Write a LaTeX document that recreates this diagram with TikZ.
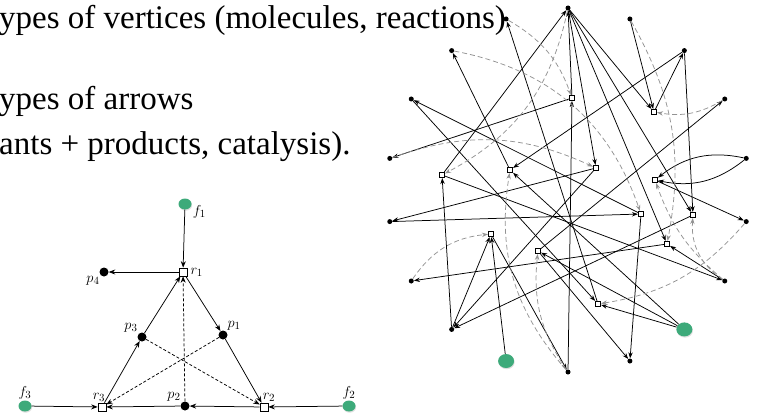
\documentclass[tikz,border=0pt]{standalone}
\usepackage{fontspec}
\setmainfont{Liberation Serif}
\usetikzlibrary{arrows.meta,shapes.geometric,shadows}
\definecolor{food}{HTML}{3DAA7A}
\definecolor{catal}{HTML}{939393}
\tikzset{
  mdot/.style={circle, fill=black, inner sep=0pt, minimum size=9pt},
  rbox/.style={rectangle, draw=black, fill=white, line width=0.6pt, inner sep=0pt, minimum size=8pt},
  fnode/.style={ellipse, fill=food, inner sep=0pt, minimum width=13pt, minimum height=11pt,
    drop shadow={opacity=0.25, shadow xshift=0.6pt, shadow yshift=-1.2pt}},
  lab/.style={font=\fontsize{15}{15}\selectfont, inner sep=1pt},
  arr/.style={-{Stealth[length=6.5pt,width=5pt]}, line width=0.75pt},
  darr/.style={arr, dash pattern=on 3pt off 2pt},
  % network
  sdot/.style={circle, fill=black, inner sep=0pt, minimum size=5pt},
  sbox/.style={rectangle, draw=black, fill=white, line width=0.6pt, inner sep=0pt, minimum size=5.5pt},
  gdot/.style={fnode, minimum width=16pt, minimum height=14pt},
  narr/.style={-{Stealth[length=6pt,width=4.4pt]}, line width=0.75pt},
  carr/.style={-{Stealth[length=6pt,width=4.4pt]}, line width=0.75pt, draw=catal, dash pattern=on 5pt off 3pt},
  txt/.style={anchor=base west, inner sep=0pt, font=\fontsize{33}{38}\selectfont}
}

\begin{document}
\begin{tikzpicture}[x=1pt,y=-1pt]
  \useasboundingbox (0,0) rectangle (765,417);

  \node[txt] (line1) at (-1,29) {ypes of vertices (molecules, reactions)};
  \node[txt] (line2) at (-1,110) {ypes of arrows};
  \node[txt] (line3) at (-1,154) {ants + products, catalysis).};

  % small example
  \node[fnode] (f1) at (185,204) {};
  \node[fnode] (f2) at (349,406) {};
  \node[fnode] (f3) at (25,406) {};
  \node[rbox] (r1) at (183,272) {};
  \node[rbox] (r2) at (264,407) {};
  \node[rbox] (r3) at (102,407) {};
  \node[mdot] (p1) at (223,335) {};
  \node[mdot] (p2) at (185,406) {};
  \node[mdot] (p3) at (142,337) {};
  \node[mdot] (p4) at (104,272) {};

  \node[lab, anchor=north west] at (f1.east) {$f_1$};
  \node[lab, anchor=west] at ([xshift=2pt]r1.east) {$r_1$};
  \node[lab, anchor=north east] at (p4.south west) {$p_4$};
  \node[lab, anchor=south east] at (p3.north west) {$p_3$};
  \node[lab, anchor=south west] at (p1.north east) {$p_1$};
  \node[lab, anchor=south] at ([xshift=-3pt]r3.north) {$r_3$};
  \node[lab, anchor=south east] at (p2.north west) {$p_2$};
  \node[lab, anchor=south] at ([xshift=5pt]r2.north) {$r_2$};
  \node[lab, anchor=south] at (f3.north) {$f_3$};
  \node[lab, anchor=south] at (f2.north) {$f_2$};

  \foreach \s/\t in {f1/r1, r1/p4, r1/p1, p1/r2, r3/p3, p3/r1, f3/r3, f2/r2, r2/p2, p2/r3}
    \draw[arr] (\s) -- (\t);
  \foreach \s/\t in {p2/r1, p1/r3, p3/r2}
    \draw[darr] (\s) -- (\t);

  % random network
  \foreach \a in {10,30,50,70,90,110,130,150,170,190,210,230,270,290,330,350}
    \node[sdot] (M\a) at ({568+181*cos(\a)},{190-182*sin(\a)}) {};
  \node[gdot] (M250) at ({568+181*cos(250)},{190-182*sin(250)}) {};
  \node[gdot] (M310) at ({568+181*cos(310)},{190-182*sin(310)}) {};

  \foreach \n/\x/\y in {1/572/98, 2/654/112, 3/596/168, 4/442/175, 5/510/170, 6/655/180,
      7/641/214, 8/693/215, 9/491/234, 10/538/251, 11/667/244, 12/598/304}
    \node[sbox] (R\n) at (\x,\y) {};

  \foreach \s/\t in {M270/R1, R1/M90, R1/M170, M90/R2, M70/R2, R2/M50, M50/R5, M90/R3,
      R3/M190, R3/M230, R4/M90, M230/R4, R4/M330, M230/R9, M250/R9, R9/M270, M310/R10,
      R10/M290, R10/M30, R7/M290, M190/R7, R7/M150, M150/R12, R12/M110, M310/R12,
      R5/M130, M310/R5, R6/M350, M90/R11, M330/R11, R11/M210, M90/R8, M50/R8, R8/M230}
    \draw[narr] (\s) -- (\t);
  \draw[narr] (M10) to[bend left=25] (R6);
  \draw[narr] (M10) to[bend right=25] (R6);

  \foreach \s/\t/\b in {M110/R1/20, M90/R4/25, M130/R7/30, M170/R3/22, M30/R2/20,
      M70/R11/20, M270/R5/25, M270/R10/20, M210/R9/25, M330/R6/15, M330/R8/30, M350/R12/20}
    \draw[carr] (\s) to[bend left=\b] (\t);
\end{tikzpicture}
\end{document}
